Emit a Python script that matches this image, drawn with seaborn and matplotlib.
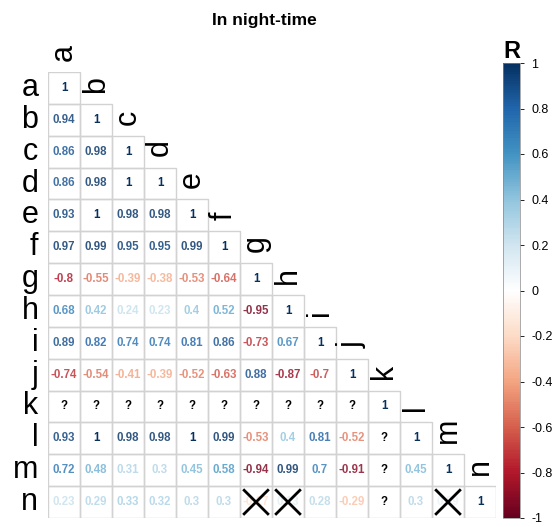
import numpy as np
import pandas as pd
import matplotlib
matplotlib.use("Agg")
import matplotlib.pyplot as plt
import seaborn as sns
from matplotlib.colors import ListedColormap, Normalize, LinearSegmentedColormap
from matplotlib.cm import ScalarMappable
from matplotlib.patches import Rectangle

labels = list("abcdefghijklmn")

# lower triangle, row by row; None = "?" (not computable)
r_rows = [
    [1],
    [0.94, 1],
    [0.86, 0.98, 1],
    [0.86, 0.98, 1, 1],
    [0.93, 1, 0.98, 0.98, 1],
    [0.97, 0.99, 0.95, 0.95, 0.99, 1],
    [-0.8, -0.55, -0.39, -0.38, -0.53, -0.64, 1],
    [0.68, 0.42, 0.24, 0.23, 0.4, 0.52, -0.95, 1],
    [0.89, 0.82, 0.74, 0.74, 0.81, 0.86, -0.73, 0.67, 1],
    [-0.74, -0.54, -0.41, -0.39, -0.52, -0.63, 0.88, -0.87, -0.7, 1],
    [None, None, None, None, None, None, None, None, None, None, 1],
    [0.93, 1, 0.98, 0.98, 1, 0.99, -0.53, 0.4, 0.81, -0.52, None, 1],
    [0.72, 0.48, 0.31, 0.3, 0.45, 0.58, -0.94, 0.99, 0.7, -0.91, None, 0.45, 1],
    [0.23, 0.29, 0.33, 0.32, 0.3, 0.3, -0.17, 0.13, 0.28, -0.29, None, 0.3, 0.09, 1],
]

# non-significant cells marked with a cross (row, col)
crossed = [("n", "g"), ("n", "h"), ("n", "m")]

n = len(labels)
mat = np.full((n, n), np.nan)
for i, row in enumerate(r_rows):
    for j, v in enumerate(row):
        if v is not None:
            mat[i, j] = v
corr = pd.DataFrame(mat, index=labels, columns=labels)

plt.rcParams["font.family"] = ["Liberation Sans", "DejaVu Sans"]

# corrplot style red-white-blue
cmap = LinearSegmentedColormap.from_list("col2", [
    "#67001F", "#B2182B", "#D6604D", "#F4A582", "#FDDBC7", "#FFFFFF",
    "#D1E5F0", "#92C5DE", "#4393C3", "#2166AC", "#053061"])
norm = Normalize(-1, 1)

fig = plt.figure(figsize=(5.55, 5.27), dpi=100)
ax = fig.add_axes([48 / 555, 9 / 527, 448 / 555, 446 / 527])

mask = np.triu(np.ones((n, n), dtype=bool), k=1)
sns.heatmap(corr.fillna(0), mask=mask, cmap=ListedColormap(["white"]), cbar=False,
            linewidths=0, ax=ax)

for i in range(n):
    for j in range(i + 1):
        ax.add_patch(Rectangle((j, i), 1, 1, facecolor="none", edgecolor="#d2d2d2", lw=1.0))
        v = corr.iloc[i, j]
        if np.isnan(v):
            ax.text(j + 0.5, i + 0.5, "?", ha="center", va="center",
                    fontsize=8.3, fontweight="bold", color="black")
        else:
            c = cmap(norm(v))
            if v < 1:
                # a touch lighter, like the anti-aliased original
                c = tuple(0.82 * np.array(c[:3]) + 0.18) + (1,)
            ax.text(j + 0.5, i + 0.5, f"{v:g}", ha="center", va="center",
                    fontsize=8.3, fontweight="bold", color=c)

for rl, cl in crossed:
    i, j = labels.index(rl), labels.index(cl)
    p = 0.13
    ax.plot([j + p, j + 1 - p], [i + p, i + 1 - p], color="black", lw=2.0, zorder=5)
    ax.plot([j + p, j + 1 - p], [i + 1 - p, i + p], color="black", lw=2.0, zorder=5)

ax.set_xlim(0, n)
ax.set_ylim(n, 0)
ax.set_xticks([])
ax.set_yticks([])
ax.set_xlabel("")
ax.set_ylabel("")
for i, lab in enumerate(labels):
    ax.text(-0.3, i + 0.5, lab, ha="right", va="center", fontsize=22, clip_on=False)
    ax.text(i + 0.5, i - 0.35, lab, ha="center", va="bottom", rotation=90,
            fontsize=22, clip_on=False)
for s in ax.spines.values():
    s.set_visible(False)

ticks = np.round(np.arange(-1, 1.01, 0.2), 1) + 0.0
cax = fig.add_axes([503 / 555, 9 / 527, 17 / 555, 455 / 527])
cb = fig.colorbar(ScalarMappable(norm=norm, cmap=cmap), cax=cax, ticks=ticks)
cb.ax.set_yticklabels([f"{t:g}" if abs(t) > 1e-9 else "0" for t in ticks])
cb.ax.tick_params(labelsize=9, length=3, width=0.6, colors="black", pad=5)
cb.outline.set_linewidth(0.5)
cb.outline.set_edgecolor("#888888")
fig.text(512 / 555, 1 - 52 / 527, "R", ha="center", va="center", fontsize=17, fontweight="bold")

fig.text(264 / 555, 1 - 20 / 527, "In night-time", ha="center", va="center",
         fontsize=12.5, fontweight="bold")

fig.savefig("out.png", dpi=100)
